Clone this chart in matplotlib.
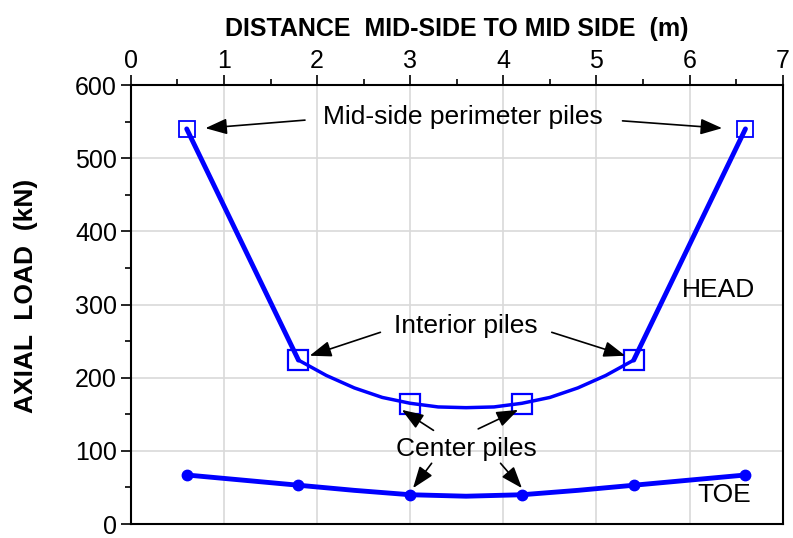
import numpy as np
import matplotlib
matplotlib.use("Agg")
import matplotlib.pyplot as plt
from matplotlib.ticker import MultipleLocator

plt.rcParams['font.family'] = ['Liberation Sans', 'DejaVu Sans']

# pile positions (m) and loads (kN)
pile_x = [0.6, 1.8, 3.0, 4.2, 5.4, 6.6]
head_load = [540, 224, 164, 164, 224, 540]
toe_load = [67, 53, 40, 40, 53, 67]

# smoothed curves
head_curve_x = [1.8, 2.1, 2.4, 2.7, 3.0, 3.3, 3.6, 3.9, 4.2, 4.5, 4.8, 5.1, 5.4]
head_curve_y = [224, 203, 186, 173, 165, 160, 159, 160, 165, 173, 186, 203, 224]
toe_curve_x = [0.6, 1.8, 2.4, 3.0, 3.6, 4.2, 4.8, 5.4, 6.6]
toe_curve_y = [67, 53, 46, 40, 38, 40, 46, 53, 67]

blue = '#0000ff'

fig = plt.figure(figsize=(7.93, 5.38), dpi=100)
ax = fig.add_axes([0.165, 0.026, 0.822, 0.816])

# head: steep outer segments, smooth curve in the middle
ax.plot(pile_x[:2], head_load[:2], color=blue, lw=3.5, solid_capstyle='round')
ax.plot(pile_x[-2:], head_load[-2:], color=blue, lw=3.5, solid_capstyle='round')
ax.plot(head_curve_x, head_curve_y, color=blue, lw=2.5)
ax.plot([pile_x[0], pile_x[-1]], [head_load[0], head_load[-1]], ls='none',
        marker='s', ms=11, mfc='none', mec=blue, mew=1.3)
ax.plot(pile_x[1:-1], head_load[1:-1], ls='none',
        marker='s', ms=15, mfc='none', mec=blue, mew=1.6)

# toe
ax.plot(toe_curve_x, toe_curve_y, color=blue, lw=3.5)
ax.plot(pile_x, toe_load, ls='none', marker='o', ms=7.5, color=blue)

ax.set_xlim(0, 7)
ax.set_ylim(0, 600)
ax.xaxis.set_major_locator(MultipleLocator(1))
ax.xaxis.set_minor_locator(MultipleLocator(0.5))
ax.yaxis.set_major_locator(MultipleLocator(100))
ax.yaxis.set_minor_locator(MultipleLocator(50))
ax.xaxis.tick_top()
ax.xaxis.set_label_position('top')
ax.tick_params(axis='both', which='major', direction='out', length=7, width=1.2,
               labelsize=18, pad=3)
ax.tick_params(axis='x', which='major', pad=2)
ax.tick_params(axis='both', which='minor', direction='out', length=4, width=1.2)
ax.tick_params(axis='x', which='both', bottom=False)
ax.grid(True, which='major', color='#d9d9d9', lw=1.2)
ax.set_axisbelow(True)
for s in ax.spines.values():
    s.set_linewidth(1.5)

ax.set_xlabel('DISTANCE  MID-SIDE TO MID SIDE  (m)', fontsize=18, fontweight='bold',
              labelpad=9)
ax.set_ylabel('AXIAL  LOAD  (kN)', fontsize=19, fontweight='bold')
ax.yaxis.set_label_coords(-0.142, 0.52)

arrow = dict(arrowstyle='-|>,head_length=0.6,head_width=0.22', color='black',
             lw=1.2, mutation_scale=22, shrinkA=0, shrinkB=0)
fs = 19

ax.text(3.57, 556, 'Mid-side perimeter piles', fontsize=fs, ha='center', va='center')
ax.annotate('', xy=(0.8, 541), xytext=(1.87, 552), arrowprops=arrow)
ax.annotate('', xy=(6.35, 541), xytext=(5.28, 551), arrowprops=arrow)

ax.text(3.6, 270, 'Interior piles', fontsize=fs, ha='center', va='center')
ax.annotate('', xy=(1.92, 230), xytext=(2.68, 262), arrowprops=arrow)
ax.annotate('', xy=(5.31, 230), xytext=(4.52, 262), arrowprops=arrow)

ax.text(3.6, 103, 'Center piles', fontsize=fs, ha='center', va='center')
ax.annotate('', xy=(2.91, 156), xytext=(3.25, 128), arrowprops=arrow)
ax.annotate('', xy=(4.16, 156), xytext=(3.73, 130), arrowprops=arrow)
ax.annotate('', xy=(3.03, 49), xytext=(3.23, 83), arrowprops=arrow)
ax.annotate('', xy=(4.20, 49), xytext=(3.97, 83), arrowprops=arrow)

ax.text(6.31, 320, 'HEAD', fontsize=fs, ha='center', va='center')
ax.text(6.37, 39, 'TOE', fontsize=fs, ha='center', va='center')

fig.savefig('out.png', dpi=100)
